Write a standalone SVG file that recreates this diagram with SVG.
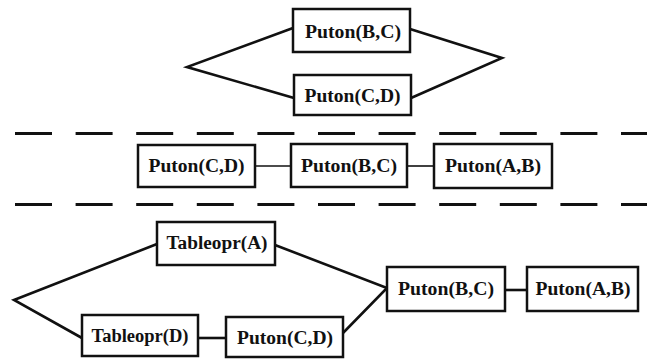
<svg xmlns="http://www.w3.org/2000/svg" width="647" height="361" viewBox="0 0 647 361">
  <style>
    .box { fill: #fff; stroke: #111; stroke-width: 2.5; }
    .lbl { font-family: "Liberation Serif", "DejaVu Serif", serif; font-weight: bold; font-size: 18px; fill: #111; text-anchor: middle; }
    .edge { fill: none; stroke: #111; stroke-width: 2.6; stroke-linejoin: miter; }
    .thin { stroke-width: 1.6; }
    .sep { stroke: #111; stroke-width: 3; stroke-dasharray: 37 23.6; }
  </style>

  <!-- separators -->
  <g id="separators">
    <line class="sep" x1="15" y1="133.5" x2="647" y2="133.5"/>
    <line class="sep" x1="15" y1="204.5" x2="647" y2="204.5"/>
  </g>

  <!-- connectors -->
  <g id="connectors">
    <polyline class="edge" points="293,28 187,67 294,98"/>
    <polyline class="edge" points="410,29 502,58 411,98"/>
    <line class="edge thin" x1="255" y1="166" x2="291" y2="166"/>
    <line class="edge thin" x1="407" y1="166" x2="434" y2="166"/>
    <polyline class="edge" points="157,244 14,300 82,338"/>
    <line class="edge" x1="198" y1="338" x2="226" y2="338"/>
    <polyline class="edge" points="275,245 387,288 343,333"/>
    <line class="edge" x1="505" y1="290" x2="527" y2="290"/>
  </g>

  <!-- top: parallel pair -->
  <g id="top-puton-bc">
    <rect class="box" x="293" y="9" width="117" height="43"/>
    <text class="lbl" x="353" y="38" textLength="96" lengthAdjust="spacingAndGlyphs">Puton(B,C)</text>
  </g>
  <g id="top-puton-cd">
    <rect class="box" x="294" y="75" width="117" height="40"/>
    <text class="lbl" x="352.5" y="102" textLength="96" lengthAdjust="spacingAndGlyphs">Puton(C,D)</text>
  </g>

  <!-- middle: linear chain -->
  <g id="mid-puton-cd">
    <rect class="box" x="138" y="145" width="117" height="42"/>
    <text class="lbl" x="196.5" y="172" textLength="96" lengthAdjust="spacingAndGlyphs">Puton(C,D)</text>
  </g>
  <g id="mid-puton-bc">
    <rect class="box" x="291" y="144" width="116" height="43"/>
    <text class="lbl" x="349" y="172" textLength="96" lengthAdjust="spacingAndGlyphs">Puton(B,C)</text>
  </g>
  <g id="mid-puton-ab">
    <rect class="box" x="434" y="144" width="118" height="44"/>
    <text class="lbl" x="493" y="172" textLength="96" lengthAdjust="spacingAndGlyphs">Puton(A,B)</text>
  </g>

  <!-- bottom: branching plan -->
  <g id="bot-tableopr-a">
    <rect class="box" x="157" y="222" width="118" height="43"/>
    <text class="lbl" x="217" y="249" textLength="101" lengthAdjust="spacingAndGlyphs">Tableopr(A)</text>
  </g>
  <g id="bot-tableopr-d">
    <rect class="box" x="82" y="315" width="116" height="41"/>
    <text class="lbl" x="140" y="342" textLength="97" lengthAdjust="spacingAndGlyphs">Tableopr(D)</text>
  </g>
  <g id="bot-puton-cd">
    <rect class="box" x="226" y="317" width="117" height="40"/>
    <text class="lbl" x="285" y="344" textLength="96" lengthAdjust="spacingAndGlyphs">Puton(C,D)</text>
  </g>
  <g id="bot-puton-bc">
    <rect class="box" x="387" y="267" width="118" height="44"/>
    <text class="lbl" x="446" y="295" textLength="96" lengthAdjust="spacingAndGlyphs">Puton(B,C)</text>
  </g>
  <g id="bot-puton-ab">
    <rect class="box" x="527" y="267" width="111" height="44"/>
    <text class="lbl" x="583" y="295" textLength="95" lengthAdjust="spacingAndGlyphs">Puton(A,B)</text>
  </g>
</svg>
